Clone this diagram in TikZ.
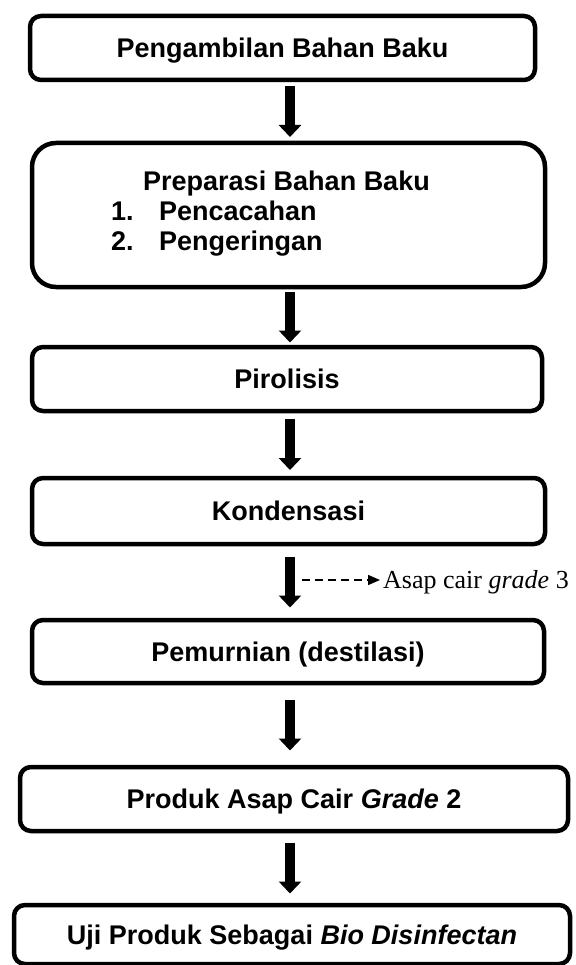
\documentclass[tikz,border=0pt]{standalone}
\usepackage{fontspec}
\setmainfont{Liberation Serif}
\setsansfont{Liberation Sans}
\usetikzlibrary{positioning, calc, arrows.meta}

\begin{document}
\begin{tikzpicture}[x=1pt, y=-1pt,
    box/.style={draw, line width=4.5pt, rounded corners=11pt, inner sep=0pt, outer sep=0pt},
    stepbox/.style={box, font=\sffamily\bfseries\fontsize{27}{32}\selectfont, text height=19pt, text depth=0pt},
    flow/.style={line width=9.5pt, -{Triangle[width=22pt, length=12pt]}},
    side/.style={line width=1.5pt, dash pattern=on 8pt off 5pt, -{Triangle[width=10pt, length=12pt]}},
    note/.style={font=\fontsize{26}{30}\selectfont, inner sep=0pt}]
    \useasboundingbox (0,0) rectangle (575,965);

    % Process steps
    \node[stepbox, minimum width=505pt, minimum height=64pt] (take) at (282.5,48) {Pengambilan Bahan Baku};
    \node[box, rounded corners=24pt, minimum width=513pt, minimum height=144pt,
          font=\sffamily\bfseries\fontsize{27}{30}\selectfont] (prep) at (288.5,215)
        {\begin{tabular}{@{}l@{\hspace{36pt}}}
            \hspace*{32pt}Preparasi Bahan Baku\\
            \makebox[48pt][l]{1.}Pencacahan\\
            \makebox[48pt][l]{2.}Pengeringan
        \end{tabular}};
    \node[stepbox, minimum width=510pt, minimum height=64pt] (pyro) at (287,379) {Pirolisis};
    \node[stepbox, minimum width=513pt, minimum height=66pt] (cond) at (288.5,511) {Kondensasi};
    \node[stepbox, minimum width=512pt, minimum height=63pt] (purify) at (288,651.5) {Pemurnian (destilasi)};
    \node[stepbox, minimum width=548pt, minimum height=64pt] (product) at (294,799) {Produk Asap Cair \textit{Grade} 2};
    \node[stepbox, minimum width=556pt, minimum height=59pt] (test) at (292,934.5) {Uji Produk Sebagai \textit{Bio Disinfectan}};

    % Main flow
    \coordinate (spine) at (290,0);
    \foreach \a/\b in {take/prep, prep/pyro, pyro/cond, cond/purify, purify/product, product/test}
        \draw[flow] ($(\a.south -| spine)!.5!(\b.north -| spine)$) ++(0,-25.5) -- ++(0,51);

    % Side product
    \coordinate (split) at ($(cond.south -| spine)!.5!(purify.north -| spine) + (12,-2)$);
    \node[note, anchor=base west] (grade3) at (383,588) {Asap cair \textit{grade} 3};
    \draw[side, shorten >=3pt] (split) -- (split -| grade3.west);
\end{tikzpicture}
\end{document}
